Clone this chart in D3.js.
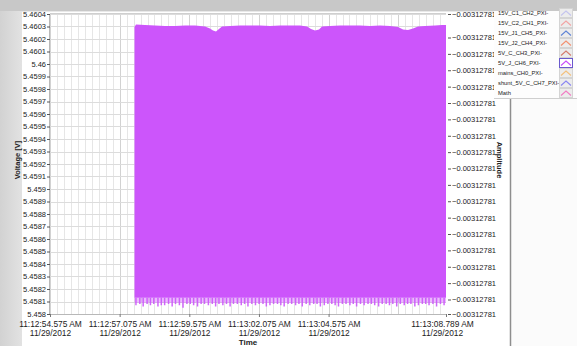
<!DOCTYPE html>
<html><head><meta charset="utf-8">
<script src="https://cdn.jsdelivr.net/npm/d3@7"></script>
<style>
body{margin:0;background:#fff}
svg{display:block}
text{font-family:"Liberation Sans",Arial,sans-serif;fill:#222}
</style>
</head><body>
<svg id="chart" width="577" height="346"></svg>
<script>
// ---- time axis (seconds after 11:12:00 on 11/29/2012) ----
const xTickSeconds = [54.575, 57.075, 59.575, 62.075, 64.575, 68.789];
const xTickClock = ["11:12:54.575 AM", "11:12:57.075 AM", "11:12:59.575 AM",
                    "11:13:02.075 AM", "11:13:04.575 AM", "11:13:08.789 AM"];
const xTickDate = ["11/29/2012", "11/29/2012", "11/29/2012", "11/29/2012", "11/29/2012", "11/29/2012"];
const timeDomain = [54.575, 68.789];

// ---- voltage axis ----
const voltDomain = [5.458, 5.4604];
const voltTicks = [5.4604, 5.4603, 5.4602, 5.4601, 5.46, 5.4599, 5.4598, 5.4597, 5.4596,
                   5.4595, 5.4594, 5.4593, 5.4592, 5.4591, 5.459, 5.4589, 5.4588, 5.4587,
                   5.4586, 5.4585, 5.4584, 5.4583, 5.4582, 5.4581, 5.458];

// ---- amplitude axis (flat channel, every label rounds to the same value) ----
const ampDomain = [-0.003127813, -0.00312781];
const ampTicks = [-0.0031278100, -0.003127810235, -0.0031278103988, -0.0031278105625,
                  -0.0031278107263, -0.00312781089, -0.0031278110538, -0.0031278112175,
                  -0.0031278113813, -0.003127811545, -0.0031278117088, -0.0031278118725,
                  -0.0031278120363, -0.0031278122, -0.0031278123638, -0.0031278125275,
                  -0.0031278126913, -0.003127812855, -0.003127813];

// ---- legend ----
const legendNames = ["15V_C1_CH2_PXI-", "15V_C2_CH1_PXI-", "15V_J1_CH5_PXI-", "15V_J2_CH4_PXI-",
                     "5V_C_CH3_PXI-", "5V_J_CH6_PXI-", "mains_CH0_PXI-", "shunt_5V_C_CH7_PXI-", "Math"];
const legendColors = ["#c4c4ee", "#f2a4a4", "#5f84d6", "#f39070", "#d47c6c",
                      "#c94dfb", "#f3c07c", "#8a86f2", "#f27cc4"];

// ---- 5V_J_CH6 signal: upper envelope of the dense oscillation ----
const upperTime = [57.608, 57.662, 57.985, 58.344, 58.703, 59.062, 59.421, 59.780, 60.139,
                   60.318, 60.426, 60.533, 60.641, 60.749, 61.036, 61.395, 61.754, 62.113,
                   62.472, 62.831, 63.190, 63.549, 63.800, 63.944, 64.088, 64.231, 64.339,
                   64.625, 64.984, 65.343, 65.702, 66.061, 66.420, 66.779, 67.066, 67.246,
                   67.425, 67.605, 67.784, 68.036, 68.395, 68.646, 68.789];
const upperVolt = [5.460296, 5.460316, 5.460312, 5.460308, 5.460304, 5.460304, 5.460308, 5.460308, 5.460300,
                   5.460284, 5.460268, 5.460260, 5.460280, 5.460300, 5.460304, 5.460308, 5.460308, 5.460308,
                   5.460304, 5.460308, 5.460308, 5.460308, 5.460300, 5.460280, 5.460268, 5.460276, 5.460300,
                   5.460304, 5.460308, 5.460308, 5.460308, 5.460304, 5.460308, 5.460304, 5.460296, 5.460276,
                   5.460272, 5.460284, 5.460300, 5.460304, 5.460308, 5.460312, 5.460312];
// solid lower edge and the fainter fringe below it
const lowerSolidVolt = 5.45813;
const fringeVolt = 5.45809;

// deepest excursions of the oscillation
const spikeTime = [57.66, 57.80, 57.92, 58.06, 58.18, 58.30, 58.45, 58.57, 58.69, 58.83,
                   58.96, 59.08, 59.22, 59.35, 59.49, 59.61, 59.73, 59.87, 60.00, 60.12,
                   60.26, 60.40, 60.52, 60.64, 60.78, 60.91, 61.04, 61.16, 61.30, 61.44,
                   61.56, 61.68, 61.82, 61.95, 62.08, 62.22, 62.34, 62.47, 62.60, 62.74,
                   62.86, 62.98, 63.12, 63.25, 63.39, 63.51, 63.63, 63.77, 63.90, 64.04,
                   64.16, 64.28, 64.42, 64.55, 64.69, 64.81, 64.93, 65.07, 65.20, 65.34,
                   65.46, 65.58, 65.72, 65.85, 65.99, 66.11, 66.23, 66.37, 66.50, 66.64,
                   66.76, 66.88, 67.02, 67.15, 67.29, 67.41, 67.53, 67.67, 67.80, 67.94,
                   68.06, 68.18, 68.32, 68.45, 68.59, 68.72];
const spikeVolt = [5.45807, 5.45808, 5.45806, 5.45808, 5.45807, 5.45808, 5.45806, 5.45807, 5.45807, 5.45808,
                   5.45806, 5.45808, 5.45807, 5.45805, 5.45808, 5.45808, 5.45807, 5.45806, 5.45808, 5.45808,
                   5.45807, 5.45808, 5.45806, 5.45808, 5.45807, 5.45808, 5.45806, 5.45808, 5.45808, 5.45807,
                   5.45808, 5.45806, 5.45808, 5.45807, 5.45808, 5.45808, 5.45806, 5.45807, 5.45808, 5.45808,
                   5.45807, 5.45806, 5.45808, 5.45808, 5.45807, 5.45808, 5.45806, 5.45808, 5.45807, 5.45808,
                   5.45808, 5.45806, 5.45807, 5.45808, 5.45808, 5.45807, 5.45806, 5.45808, 5.45808, 5.45807,
                   5.45808, 5.45806, 5.45808, 5.45807, 5.45808, 5.45808, 5.45807, 5.45806, 5.45808, 5.45808,
                   5.45807, 5.45808, 5.45806, 5.45808, 5.45807, 5.45808, 5.45808, 5.45806, 5.45807, 5.45808,
                   5.45808, 5.45807, 5.45808, 5.45806, 5.45808, 5.45807];

const signalColor = "#cc55fb";

// ---------------------------------------------------------------
const svg = d3.select("#chart");
const W = 577, H = 346;
const plot = {left: 50, right: 446, top: 14, bottom: 314};

// window chrome
svg.append("rect").attr("width", W).attr("height", H).attr("fill", "#ffffff");
const grad = svg.append("defs").append("linearGradient").attr("id", "side")
  .attr("x1", 0).attr("x2", 1).attr("y1", 0).attr("y2", 0);
grad.append("stop").attr("offset", 0).attr("stop-color", "#d2d2d2");
grad.append("stop").attr("offset", 1).attr("stop-color", "#e2e2e2");
svg.append("rect").attr("x", 0).attr("y", 0).attr("width", 22).attr("height", H).attr("fill", "url(#side)");
svg.append("rect").attr("x", 0).attr("y", 0).attr("width", W).attr("height", 11).attr("fill", "#c8c8c8");
svg.append("line").attr("x1", 22).attr("x2", W).attr("y1", 11.5).attr("y2", 11.5).attr("stroke", "#e8e8e8");
svg.append("rect").attr("x", 511).attr("y", 98).attr("width", W - 511).attr("height", H - 98).attr("fill", "#fbfbfb");
svg.append("line").attr("x1", 510.5).attr("x2", 510.5).attr("y1", 98).attr("y2", H)
  .attr("stroke", "#8e8e8e").attr("stroke-width", 1.5);

const x = d3.scaleLinear().domain(timeDomain).range([plot.left, plot.right]);
const y = d3.scaleLinear().domain(voltDomain).range([plot.bottom, plot.top]);
const yAmp = d3.scaleLinear().domain(ampDomain).range([plot.bottom, plot.top]);

// plot background and grid
svg.append("rect").attr("x", plot.left).attr("y", plot.top)
  .attr("width", plot.right - plot.left).attr("height", plot.bottom - plot.top).attr("fill", "#ffffff");

const minorTimes = d3.range(timeDomain[0], timeDomain[1], 0.25);
svg.append("g").selectAll("line").data(minorTimes).join("line")
  .attr("x1", d => Math.round(x(d)) + 0.5).attr("x2", d => Math.round(x(d)) + 0.5)
  .attr("y1", plot.top).attr("y2", plot.bottom)
  .attr("stroke", (d, i) => i % 10 === 0 ? "#d2d2d2" : "#e6e6e6");
svg.append("g").selectAll("line").data(voltTicks).join("line")
  .attr("x1", plot.left).attr("x2", plot.right)
  .attr("y1", d => Math.round(y(d)) + 0.5).attr("y2", d => Math.round(y(d)) + 0.5)
  .attr("stroke", "#dcdcdc");

// signal body
const upper = upperTime.map((t, i) => [t, upperVolt[i]]);
const body = d3.area().x(d => x(d[0])).y0(y(lowerSolidVolt)).y1(d => y(d[1]));
svg.append("path").datum(upper).attr("d", body).attr("fill", signalColor);

// faint fringe under the body
const fringe = d3.area().x(d => x(d[0])).y0(y(fringeVolt)).y1(y(lowerSolidVolt));
svg.append("path").datum(upper).attr("d", fringe).attr("fill", signalColor).attr("fill-opacity", 0.4);

// individual deep excursions
svg.append("g").selectAll("line").data(spikeTime).join("line")
  .attr("x1", d => x(d)).attr("x2", d => x(d))
  .attr("y1", y(lowerSolidVolt)).attr("y2", (d, i) => y(spikeVolt[i]))
  .attr("stroke", signalColor).attr("stroke-width", 1.5).attr("stroke-opacity", 0.9);

// frame
svg.append("line").attr("x1", plot.left).attr("x2", plot.right).attr("y1", plot.top - 0.5).attr("y2", plot.top - 0.5).attr("stroke", "#cfcfcf");
svg.append("line").attr("x1", plot.left - 0.5).attr("x2", plot.left - 0.5).attr("y1", plot.top).attr("y2", plot.bottom).attr("stroke", "#b8b8b8");
svg.append("line").attr("x1", plot.left).attr("x2", plot.right).attr("y1", plot.bottom + 0.5).attr("y2", plot.bottom + 0.5).attr("stroke", "#b8b8b8");

// left axis
const yAxis = svg.append("g").attr("transform", `translate(${plot.left},0)`)
  .call(d3.axisLeft(y).tickValues(voltTicks).tickSize(3).tickPadding(1).tickFormat(d3.format("")));
yAxis.select(".domain").remove();
yAxis.selectAll("line").attr("stroke", "#555");
yAxis.selectAll("text").style("font-size", "7.5px").attr("fill", "#222");

// right axis
const aAxis = svg.append("g").attr("transform", `translate(${plot.right + 2},0)`)
  .call(d3.axisRight(yAmp).tickValues(ampTicks).tickSize(3).tickPadding(1).tickFormat(d3.format(".8f")));
aAxis.select(".domain").remove();
aAxis.selectAll("line").attr("stroke", "#555");
aAxis.selectAll("text").style("font-size", "7.5px").attr("fill", "#222");

// bottom axis
const xAxis = svg.append("g").attr("transform", `translate(0,${plot.bottom})`)
  .call(d3.axisBottom(x).tickValues(xTickSeconds).tickSize(3).tickFormat(""));
xAxis.select(".domain").remove();
xAxis.selectAll("line").attr("stroke", "#777");
xAxis.selectAll(".tick").append("text").attr("y", 12.5).attr("text-anchor", "middle")
  .attr("dx", (d, i) => i === xTickSeconds.length - 1 ? -4 : 0)
  .style("font-size", "8.4px").text((d, i) => xTickClock[i]);
xAxis.selectAll(".tick").append("text").attr("y", 21.5).attr("text-anchor", "middle")
  .attr("dx", (d, i) => i === xTickSeconds.length - 1 ? -4 : 0)
  .style("font-size", "8.4px").text((d, i) => xTickDate[i]);

// axis titles
svg.append("text").attr("x", 248).attr("y", 345).attr("text-anchor", "middle")
  .style("font-size", "8px").style("font-weight", "bold").text("Time");
svg.append("text").attr("transform", "translate(20,160) rotate(-90)").attr("text-anchor", "middle")
  .style("font-size", "7.5px").style("font-weight", "bold").text("Voltage [V]");
svg.append("text").attr("transform", "translate(497,160) rotate(90)").attr("text-anchor", "middle")
  .style("font-size", "7.5px").style("font-weight", "bold").text("Amplitude");

// legend
const lg = svg.append("g");
lg.append("rect").attr("x", 494).attr("y", 11).attr("width", W - 494).attr("height", 87).attr("fill", "#fdfdfd");
lg.append("line").attr("x1", 494).attr("x2", W).attr("y1", 98.5).attr("y2", 98.5).attr("stroke", "#cfcfcf");
const rowY = d3.scaleBand().domain(legendNames).range([8, 98]);
const rows = lg.selectAll("g.row").data(legendNames).join("g").attr("class", "row")
  .attr("transform", d => `translate(0,${rowY(d) + rowY.bandwidth() / 2})`);
rows.append("text").attr("x", 498).attr("y", 2).style("font-size", "5.8px").text(d => d);
rows.append("rect").attr("x", 559.5).attr("y", -4.5).attr("width", 13).attr("height", 9)
  .attr("fill", (d, i) => i === 5 ? "#ffffff" : "#ececec")
  .attr("stroke", (d, i) => i === 5 ? "#6a5acd" : "#d4d4d4");
rows.append("path").attr("d", "M561,2.5 L566,-2 L571,2.5").attr("fill", "none")
  .attr("stroke", (d, i) => legendColors[i]).attr("stroke-width", 1.1);
</script>
</body></html>
